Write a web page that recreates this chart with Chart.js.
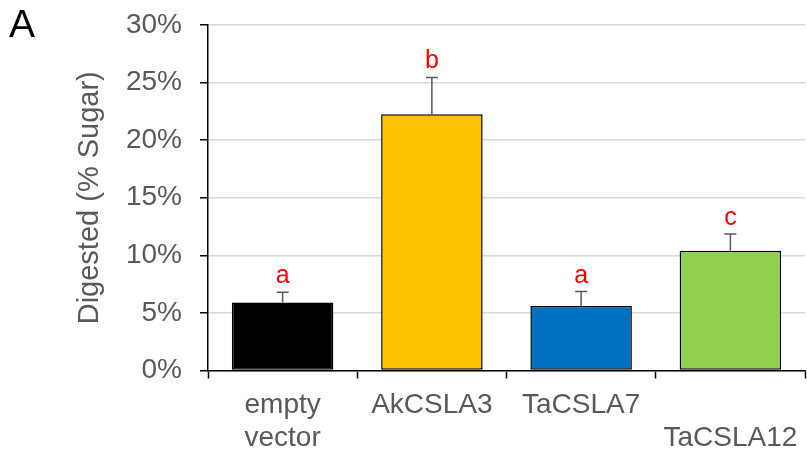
<!DOCTYPE html>
<html>
<head>
<meta charset="utf-8">
<script src="https://cdn.jsdelivr.net/npm/chart.js@4/dist/chart.umd.min.js"></script>
<style>
  html, body { margin: 0; padding: 0; background: #fff; }
  #wrap { width: 807px; height: 460px; position: relative; }
</style>
</head>
<body>
<div id="wrap"><canvas id="chart"></canvas></div>
<script>
const categories = [['empty', 'vector'], 'AkCSLA3', 'TaCSLA7', ['', 'TaCSLA12']];
const digested = [5.9, 22.25, 5.6, 10.4];
const errorTop = [6.8, 25.45, 6.85, 11.85];
const sigLetters = ['a', 'b', 'a', 'c'];
const barColors = ['#000000', '#FFC000', '#0070C0', '#92D050'];
const yTicks = [0, 5, 10, 15, 20, 25, 30];

const FONT = "'Liberation Sans', Arial, sans-serif";
const GREY = '#595959';

// error bars (upper only) + significance letters
const errorBars = {
  id: 'errorBars',
  afterDatasetsDraw(chart) {
    const ctx = chart.ctx;
    const y = chart.scales.y;
    const meta = chart.getDatasetMeta(0);
    ctx.save();
    meta.data.forEach((bar, i) => {
      const top = y.getPixelForValue(digested[i]);
      const errY = y.getPixelForValue(errorTop[i]);
      ctx.strokeStyle = GREY;
      ctx.lineWidth = 1.5;
      ctx.beginPath();
      ctx.moveTo(bar.x, top);
      ctx.lineTo(bar.x, errY);
      ctx.moveTo(bar.x - 6, errY);
      ctx.lineTo(bar.x + 6, errY);
      ctx.stroke();

      ctx.fillStyle = '#FF0000';
      ctx.font = '25px ' + FONT;
      ctx.textAlign = 'center';
      ctx.textBaseline = 'alphabetic';
      ctx.fillText(sigLetters[i], bar.x, errY - 9);
    });
    ctx.restore();
  }
};

const panelLabel = {
  id: 'panelLabel',
  afterDraw(chart) {
    const ctx = chart.ctx;
    ctx.save();
    ctx.fillStyle = '#000';
    ctx.font = '39px ' + FONT;
    ctx.textAlign = 'left';
    ctx.textBaseline = 'alphabetic';
    ctx.fillText('A', 9, 37);
    ctx.restore();
  }
};

const ctx = document.getElementById('chart').getContext('2d');
const chart = new Chart(ctx, {
  type: 'bar',
  data: {
    labels: categories,
    datasets: [{
      data: digested,
      backgroundColor: barColors,
      borderColor: '#000000',
      borderWidth: 1.5,
      borderSkipped: false,
      categoryPercentage: 1,
      barPercentage: 0.68
    }]
  },
  options: {
    responsive: true,
    maintainAspectRatio: false,
    animation: false,
    layout: { padding: { top: 25, right: 2, bottom: 0, left: 0 } },
    plugins: {
      legend: { display: false },
      tooltip: { enabled: false }
    },
    scales: {
      x: {
        grid: {
          offset: true,
          drawOnChartArea: false,
          drawTicks: true,
          tickLength: 8,
          tickColor: '#000',
          tickWidth: 1.5
        },
        border: { color: '#000', width: 1.5 },
        ticks: {
          color: GREY,
          font: { family: FONT, size: 28, lineHeight: 1.16 },
          padding: 11,
          maxRotation: 0,
          autoSkip: false
        },
        afterFit(scale) {
          scale.height = 89.5;
          scale.paddingLeft = 0;
          scale.paddingRight = 0;
        }
      },
      y: {
        min: 0,
        max: 30,
        afterBuildTicks(scale) { scale.ticks = yTicks.map(v => ({ value: v })); },
        grid: {
          color: '#D9D9D9',
          lineWidth: 1.5,
          tickLength: 8,
          tickColor: '#000',
          tickWidth: 1.5
        },
        border: { color: '#000', width: 1.5 },
        ticks: {
          color: GREY,
          font: { family: FONT, size: 28 },
          padding: 18,
          callback: v => v + '%'
        },
        title: {
          display: true,
          text: 'Digested (% Sugar)',
          color: GREY,
          font: { family: FONT, size: 29 },
          padding: { top: 73, bottom: 0 }
        },
        afterFit(scale) {
          scale.width = 208;
          scale.paddingTop = 0;
          scale.paddingBottom = 0;
        }
      }
    }
  },
  plugins: [errorBars, panelLabel]
});
</script>
</body>
</html>
